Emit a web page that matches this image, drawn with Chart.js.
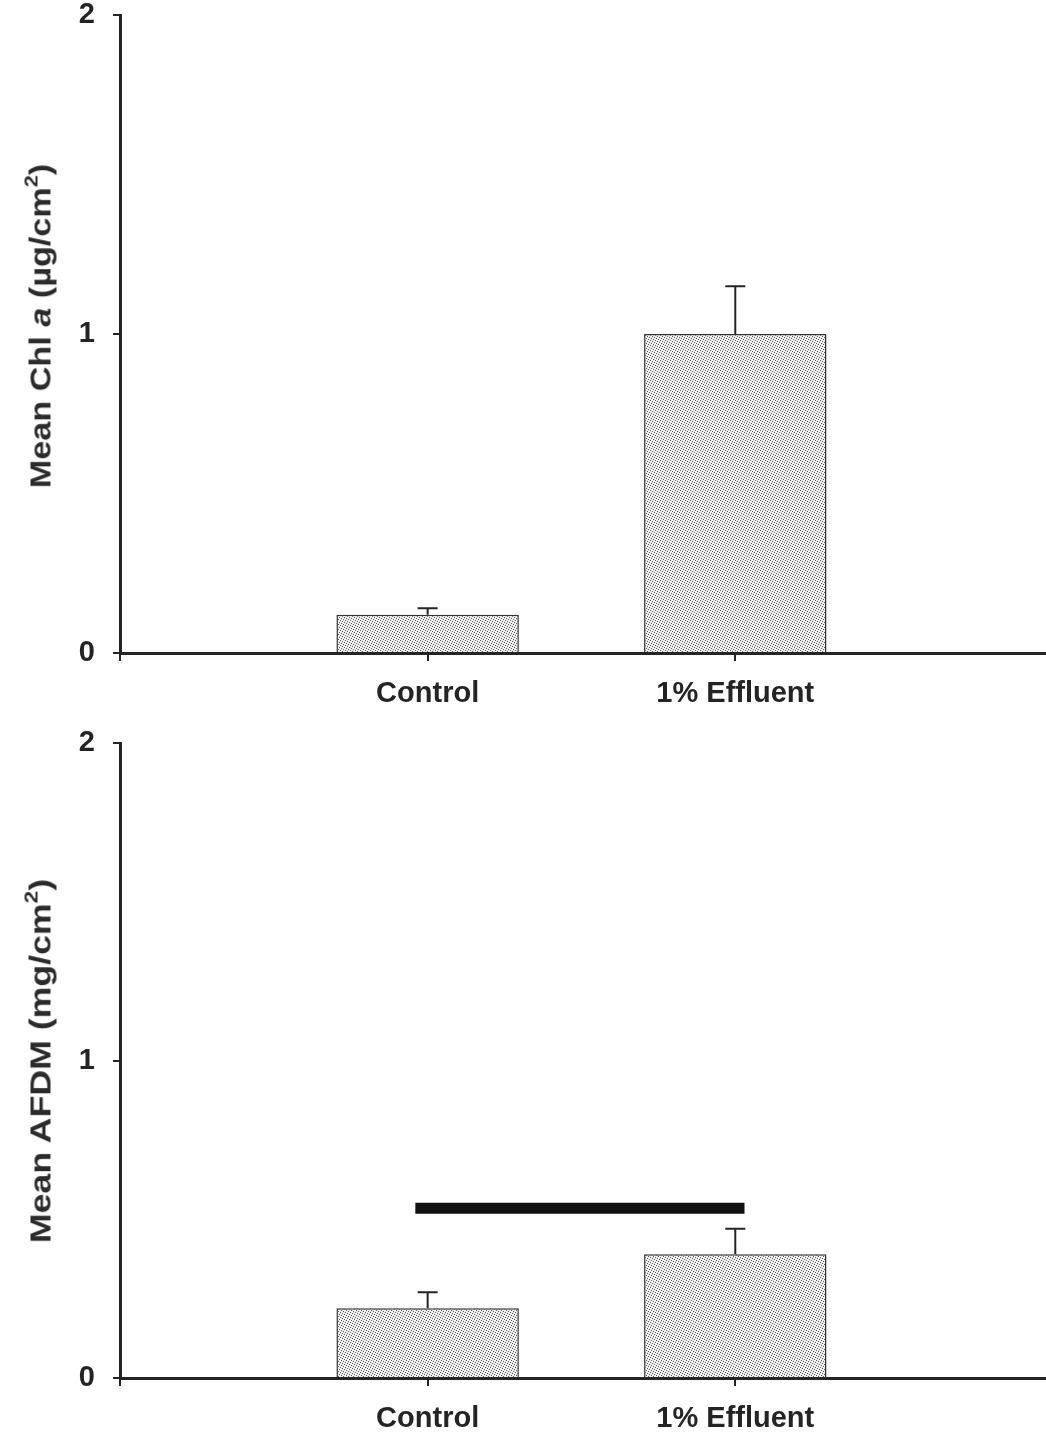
<!DOCTYPE html>
<html>
<head>
<meta charset="utf-8">
<script src="https://cdn.jsdelivr.net/npm/chart.js@4.4.1/dist/chart.umd.min.js"></script>
<style>
    body { margin: 0; background: #fff; }
    #wrap { position: relative; width: 1046px; height: 1437px; overflow: hidden; }
    canvas { position: absolute; left: 0; }
    .ytitle {
        position: absolute;
        font-family: 'Liberation Sans', Arial, sans-serif;
        font-weight: bold;
        font-size: 30px;
        color: #2b2b2b;
        white-space: nowrap;
    }
    .ytitle sup { font-size: 19px; position: relative; top: -2px; }
</style>
</head>
<body>
<div id="wrap">
    <canvas id="chlChart" width="1046" height="720" style="top:0"></canvas>
    <canvas id="afdmChart" width="1046" height="715" style="top:722px"></canvas>
    <div class="ytitle" style="left:40px; top:326px; transform: translate(-50%, -50%) rotate(-90deg) scaleX(1.14)">Mean Chl <i>a</i> (µg/cm<sup>2</sup>)</div>
    <div class="ytitle" style="left:40px; top:1061px; transform: translate(-50%, -50%) rotate(-90deg) scaleX(1.19)">Mean AFDM (mg/cm<sup>2</sup>)</div>
</div>
<script>
// Data
const categories = ['Control', '1% Effluent'];
const chlMean = [0.12, 1.0];
const chlErr = [0.02, 0.15];
const afdmMean = [0.22, 0.39];
const afdmErr = [0.05, 0.08];
const yTicks = [0, 1, 2];
const xTicks = [0, 1, 2];
// significance bar (x in category units, y in mg/cm2)
const sigBarX = [0.96, 2.03];
const sigBarY = 0.535;

const ink = '#242424';
const fontBold = { family: "'Liberation Sans', Arial, sans-serif", weight: 'bold', size: 29 };

// stippled fill like the original print
function stipple() {
    const c = document.createElement('canvas');
    c.width = 5; c.height = 5;
    const g = c.getContext('2d');
    g.fillStyle = '#eeeeee';
    g.fillRect(0, 0, 5, 5);
    g.fillStyle = '#5c5c5c';
    [[0, 0], [2, 1], [4, 2], [1, 3], [3, 4]].forEach(p => g.fillRect(p[0], p[1], 1, 1));
    return g.createPattern(c, 'repeat');
}

// upper error bars with a cap
const errorBars = {
    id: 'errorBars',
    afterDatasetsDraw(chart, args, opts) {
        const ctx = chart.ctx;
        const y = chart.scales.y;
        const meta = chart.getDatasetMeta(0);
        const means = chart.data.datasets[0].data;
        ctx.save();
        ctx.strokeStyle = ink;
        ctx.lineWidth = 2;
        meta.data.forEach((bar, i) => {
            const top = y.getPixelForValue(means[i].y + opts.errors[i]);
            ctx.beginPath();
            ctx.moveTo(bar.x, bar.y);
            ctx.lineTo(bar.x, top);
            ctx.moveTo(bar.x - 10, top);
            ctx.lineTo(bar.x + 10, top);
            ctx.stroke();
        });
        ctx.restore();
    }
};

function makeChart(id, means, errs, padTop, xHeight, extra) {
    const datasets = [{
        type: 'bar',
        data: means.map((v, i) => ({ x: i + 1, y: v })),
        backgroundColor: stipple(),
        borderColor: '#333',
        borderWidth: 1.5,
        barPercentage: 0.593,
        categoryPercentage: 1.0
    }];
    if (extra) datasets.push(extra);
    return new Chart(document.getElementById(id), {
        type: 'bar',
        data: { datasets },
        options: {
            responsive: false,
            animation: false,
            layout: { padding: { top: padTop, right: 0, left: 0, bottom: 0 } },
            plugins: {
                legend: { display: false },
                tooltip: { enabled: false },
                errorBars: { errors: errs }
            },
            scales: {
                x: {
                    type: 'linear',
                    min: 0,
                    max: 3.01,
                    offset: false,
                    afterBuildTicks: s => { s.ticks = xTicks.map(v => ({ value: v })); },
                    afterFit: s => { s.height = xHeight; s.paddingLeft = 0; s.paddingRight = 0; },
                    ticks: {
                        color: ink,
                        font: fontBold,
                        padding: 16,
                        maxRotation: 0,
                        callback: v => categories[v - 1] || ''
                    },
                    grid: { offset: false, drawOnChartArea: false, drawTicks: true, tickLength: 8, lineWidth: 2, color: ink },
                    border: { display: true, width: 3, color: ink }
                },
                y: {
                    min: 0,
                    max: 2,
                    afterBuildTicks: s => { s.ticks = yTicks.map(v => ({ value: v })); },
                    afterFit: s => { s.width = 120; s.paddingTop = 0; s.paddingBottom = 0; },
                    ticks: { color: ink, font: fontBold, padding: 18 },
                    grid: { drawOnChartArea: false, drawTicks: true, tickLength: 7, lineWidth: 2, color: ink },
                    border: { display: true, width: 3, color: ink }
                }
            }
        },
        plugins: [errorBars]
    });
}

makeChart('chlChart', chlMean, chlErr, 15, 67, null);

makeChart('afdmChart', afdmMean, afdmErr, 21, 59, {
    type: 'line',
    data: sigBarX.map(x => ({ x: x, y: sigBarY })),
    borderColor: '#111',
    borderWidth: 11,
    borderCapStyle: 'butt',
    pointRadius: 0,
    fill: false
});
</script>
</body>
</html>
